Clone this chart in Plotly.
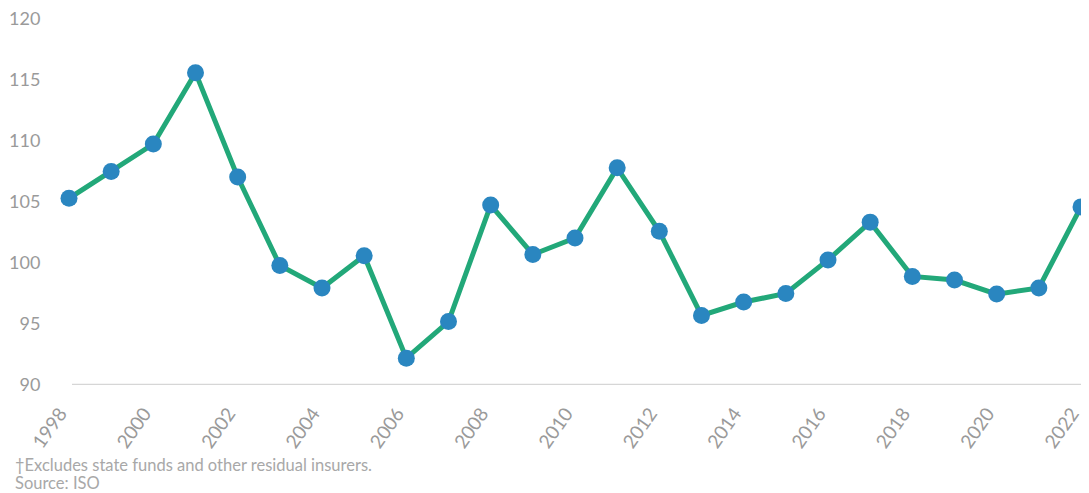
import plotly.graph_objects as go

years = list(range(1998, 2023))
values = [105.3, 107.5, 109.75, 115.6, 107.05, 99.8, 97.95, 100.6, 92.2, 95.2,
          104.75, 100.7, 102.05, 107.8, 102.6, 95.7, 96.8, 97.5, 100.25, 103.35,
          98.9, 98.6, 97.45, 97.95, 104.6]
x_ticks = list(range(1998, 2023, 2))
y_ticks = [90, 95, 100, 105, 110, 115, 120]
footnotes = ["\u2020Excludes state funds and other residual insurers.", "Source: ISO"]

OFF = 8  # page body margin
W, H = 1089 - OFF, 493 - OFF
L, R, T, B = 69 - OFF, 8, 19 - OFF, 108
pw, ph = W - L - R, H - T - B

fig = go.Figure()
fig.add_trace(go.Scatter(
    x=years, y=values, mode="lines+markers",
    line=dict(color="#22a879", width=5),
    marker=dict(color="#2a86c0", size=17),
    cliponaxis=False, showlegend=False,
))

font_col = "#9a9a9a"
fig.update_layout(
    width=W, height=H,
    margin=dict(l=L, r=R, t=T, b=B, autoexpand=False),
    paper_bgcolor="white", plot_bgcolor="white",
    font=dict(family="Lato, sans-serif", color=font_col),
    xaxis=dict(range=[1998, 2022], tickvals=x_ticks, ticktext=[str(v) for v in x_ticks],
               tickangle=-55, showgrid=False, zeroline=False, showline=False,
               tickfont=dict(size=19, color=font_col), ticks="outside", ticklen=9,
               tickcolor="rgba(0,0,0,0)", automargin=False, ticklabeloverflow="allow",
               ticklabelshift=-9),
    yaxis=dict(range=[90, 120], tickvals=y_ticks, showgrid=False, zeroline=False,
               showline=False, tickfont=dict(size=18, color=font_col),
               ticks="outside", ticklen=24, tickcolor="rgba(0,0,0,0)",
               automargin=False, ticklabeloverflow="allow"),
)

fig.add_shape(type="line", xref="paper", yref="y", x0=3 / pw, x1=(pw + R) / pw,
              y0=90, y1=90, line=dict(color="#d6d6d6", width=2.5), layer="below")

for i, txt in enumerate(footnotes):
    ypix = 465 + i * 18 - OFF
    fig.add_annotation(text=txt, xref="paper", yref="paper",
                       x=(13 - 69) / pw, y=(H - B - ypix) / ph,
                       xanchor="left", yanchor="middle", showarrow=False,
                       font=dict(size=16.5, color="#a8a8a8"))

fig.write_html("out.html")
